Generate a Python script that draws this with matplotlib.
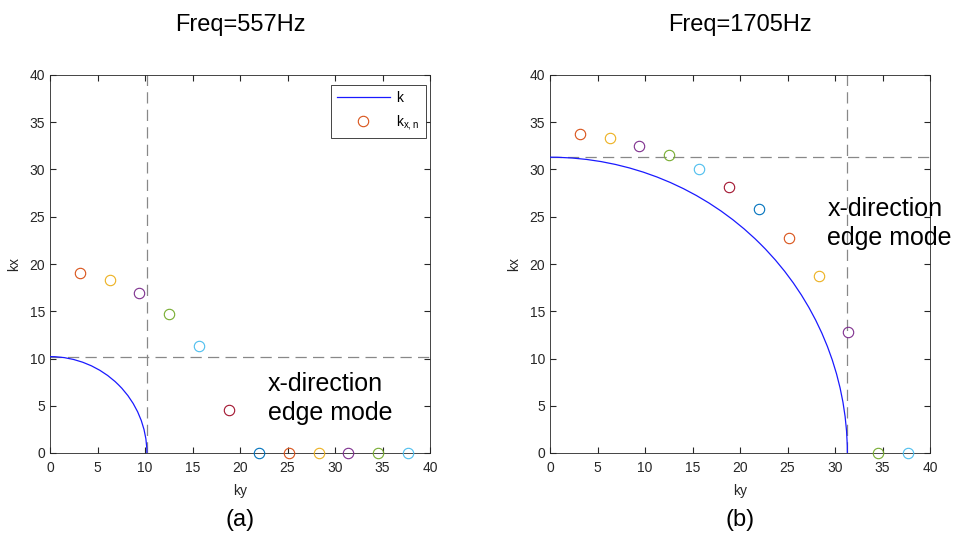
import matplotlib.pyplot as plt
import numpy as np
from matplotlib.patches import Arc
from matplotlib.lines import Line2D

plt.rcParams['font.family'] = ['Liberation Sans', 'DejaVu Sans']

# mode positions along ky (n*pi)
ky = [3.14, 6.28, 9.42, 12.57, 15.71, 18.85, 21.99, 25.13, 28.27, 31.42, 34.56, 37.70]
kx_a = [19.1, 18.3, 16.9, 14.7, 11.3, 4.5, 0, 0, 0, 0, 0, 0]
kx_b = [33.8, 33.3, 32.5, 31.5, 30.1, 28.2, 25.8, 22.7, 18.7, 12.8, 0, 0]
k_a = 10.2
k_b = 31.3
titles = ['Freq=557Hz', 'Freq=1705Hz']
panel_labels = ['(a)', '(b)']

colors = ['#D95319', '#EDB120', '#7E2F8E', '#77AC30', '#4DBEEE', '#A2142F', '#0072BD']
axc = (0.15, 0.15, 0.15)

fig = plt.figure(figsize=(9.57, 5.46), dpi=100)
ax_a = fig.add_axes([50/957, 93/546, 380/957, 378/546])
ax_b = fig.add_axes([550/957, 93/546, 380/957, 378/546])

text_pos = [(22.9, 5.8), (29.2, 24.3)]

for ax, kx, k, t, pl, tp in zip([ax_a, ax_b], [kx_a, kx_b], [k_a, k_b], titles, panel_labels, text_pos):
    ax.add_patch(Arc((0, 0), 2*k, 2*k, theta1=0, theta2=90, color='#1a1aff', lw=0.9, zorder=3))
    ax.axvline(k, color='#888888', ls=(0, (9, 5)), lw=0.9)
    ax.axhline(k, color='#888888', ls=(0, (9, 5)), lw=0.9)
    for i in range(len(ky)):
        ax.plot(ky[i], kx[i], 'o', mfc='none', mec=colors[i % 7], ms=7.5, mew=0.8, clip_on=False, zorder=4)
    ax.set_xlim(0, 40)
    ax.set_ylim(0, 40)
    ax.set_xticks(np.arange(0, 41, 5))
    ax.set_yticks(np.arange(0, 41, 5))
    ax.tick_params(direction='in', top=True, right=True, labelsize=10, colors=axc, length=4)
    ax.tick_params(axis='x', pad=6)
    for s in ax.spines.values():
        s.set_color(axc)
        s.set_linewidth(0.6)
    ax.set_xlabel('ky', fontsize=10, color=axc, labelpad=6)
    ax.set_ylabel('kx', fontsize=10, color=axc, labelpad=6)
    ax.text(tp[0], tp[1], 'x-direction\nedge mode', fontsize=18, va='center', ha='left', linespacing=1.25)
    cx = (ax.get_position().x0 + ax.get_position().x1) / 2
    fig.text(cx, 1 - 25/546, t, fontsize=17, ha='center', va='center')
    fig.text(cx, 1 - 520/546, pl, fontsize=17, ha='center', va='center')

handles = [Line2D([], [], color='#1a1aff', lw=0.9),
           Line2D([], [], ls='none', marker='o', mfc='none', mec=colors[0], ms=7.5, mew=0.8)]
leg = ax_a.legend(handles, ['k', r'k$_{\mathregular{x,n}}$'], loc='upper right', fontsize=10,
                  bbox_to_anchor=(1 - 4/380, 1 - 10/378), borderaxespad=0,
                  fancybox=False, edgecolor=axc, framealpha=1,
                  handlelength=3.8, borderpad=0.45, labelspacing=0.55, handletextpad=0.5)
leg.get_frame().set_linewidth(0.6)

fig.savefig('out.png', dpi=100)
